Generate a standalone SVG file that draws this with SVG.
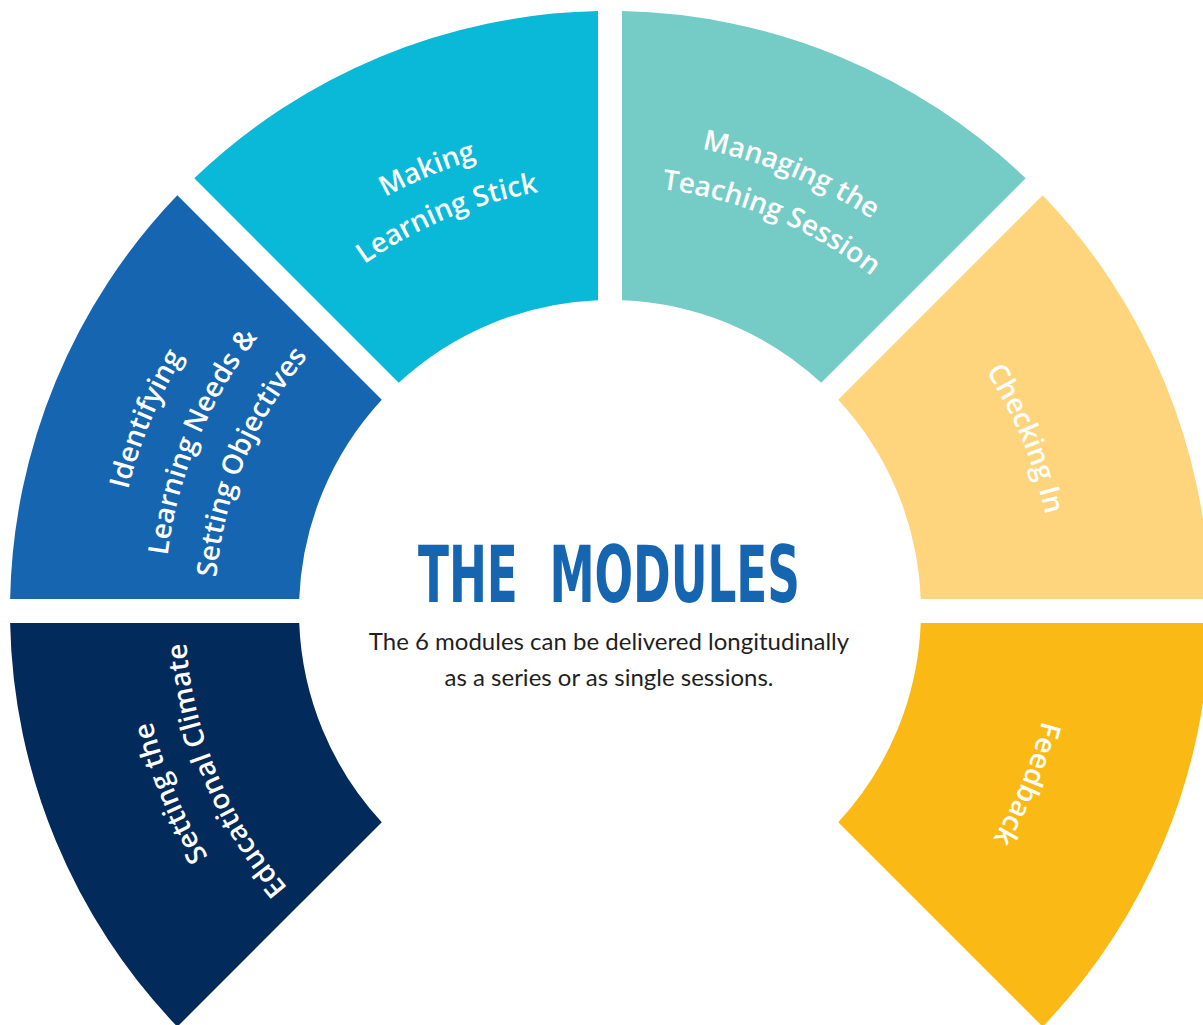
<svg xmlns="http://www.w3.org/2000/svg" xmlns:xlink="http://www.w3.org/1999/xlink" width="1203" height="1025" viewBox="0 0 1203 1025">
  <style>
    .lbl { font-family: "Open Sans", "Lato", "DejaVu Sans", sans-serif; font-weight: 600; font-size: 28px; fill: #ffffff; }
    .title { font-family: "Liberation Sans Narrow", "DejaVu Sans", sans-serif; font-stretch: condensed; font-weight: 700; font-size: 78px; fill: #1565b0; }
    .sub { font-family: "Lato", "Open Sans", sans-serif; font-size: 24px; fill: #1f1f1f; }
  </style>
  <defs>
    <path id="pMak1" d="M276.95,277.95 A471,471 0 0 1 610,140"/>
    <path id="pMak2" d="M309.48,310.48 A425,425 0 0 1 610,186"/>
    <path id="pMan1" d="M610,140 A471,471 0 0 1 943.05,277.95"/>
    <path id="pMan2" d="M610,186 A425,425 0 0 1 910.52,310.48"/>
    <path id="pChk" d="M925.37,295.63 A446,446 0 0 1 1056,611"/>
    <path id="pFdb" d="M1056,611 A446,446 0 0 1 925.37,926.37"/>
    <path id="pCli1" d="M276.95,944.05 A471,471 0 0 1 139,611"/>
    <path id="pCli2" d="M309.48,911.52 A425,425 0 0 1 185,611"/>
    <path id="pId1" d="M113,611 A497,497 0 0 1 258.57,259.57"/>
    <path id="pId2" d="M164,611 A446,446 0 0 1 294.63,295.63"/>
    <path id="pId3" d="M215,611 A395,395 0 0 1 330.69,331.69"/>
  </defs>
  <rect width="1203" height="1025" fill="#ffffff"/>

  <g id="seg-climate">
    <path d="M10.12,623 A600,600 0 0 0 177.33,1026.7 L381.77,822.26 A311,311 0 0 1 299.23,623 Z" fill="#022a5b"/>
    <text class="lbl"><textPath xlink:href="#pCli1" href="#pCli1" startOffset="50%" text-anchor="middle">Setting the</textPath></text>
    <text class="lbl"><textPath xlink:href="#pCli2" href="#pCli2" startOffset="50%" text-anchor="middle">Educational Climate</textPath></text>
  </g>

  <g id="seg-identifying">
    <path d="M10.12,599 A600,600 0 0 1 177.33,195.3 L381.77,399.74 A311,311 0 0 0 299.23,599 Z" fill="#1565b0"/>
    <text class="lbl"><textPath xlink:href="#pId1" href="#pId1" startOffset="50%" text-anchor="middle">Identifying</textPath></text>
    <text class="lbl"><textPath xlink:href="#pId2" href="#pId2" startOffset="50%" text-anchor="middle">Learning Needs &amp;</textPath></text>
    <text class="lbl"><textPath xlink:href="#pId3" href="#pId3" startOffset="50%" text-anchor="middle">Setting Objectives</textPath></text>
  </g>

  <g id="seg-making">
    <path d="M194.3,178.33 A600,600 0 0 1 598,11.12 L598,300.23 A311,311 0 0 0 398.74,382.77 Z" fill="#0ab8d7"/>
    <text class="lbl"><textPath xlink:href="#pMak1" href="#pMak1" startOffset="50%" text-anchor="middle">Making</textPath></text>
    <text class="lbl"><textPath xlink:href="#pMak2" href="#pMak2" startOffset="50%" text-anchor="middle">Learning Stick</textPath></text>
  </g>

  <g id="seg-managing">
    <path d="M622,11.12 A600,600 0 0 1 1025.7,178.33 L821.26,382.77 A311,311 0 0 0 622,300.23 Z" fill="#75ccc6"/>
    <text class="lbl"><textPath xlink:href="#pMan1" href="#pMan1" startOffset="50%" text-anchor="middle">Managing the</textPath></text>
    <text class="lbl"><textPath xlink:href="#pMan2" href="#pMan2" startOffset="50%" text-anchor="middle">Teaching Session</textPath></text>
  </g>

  <g id="seg-checking">
    <path d="M1042.7,195.3 A600,600 0 0 1 1209.88,599 L920.77,599 A311,311 0 0 0 838.23,399.74 Z" fill="#fed57c"/>
    <text class="lbl"><textPath xlink:href="#pChk" href="#pChk" startOffset="50%" text-anchor="middle">Checking In</textPath></text>
  </g>

  <g id="seg-feedback">
    <path d="M1209.88,623 A600,600 0 0 1 1042.7,1026.7 L838.23,822.26 A311,311 0 0 0 920.77,623 Z" fill="#fbb916"/>
    <text class="lbl"><textPath xlink:href="#pFdb" href="#pFdb" startOffset="50%" text-anchor="middle">Feedback</textPath></text>
  </g>

  <g id="center">
    <text class="title" x="609" y="602" text-anchor="middle" textLength="382" lengthAdjust="spacingAndGlyphs" xml:space="preserve">THE  MODULES</text>
    <text class="sub" x="609" y="650" text-anchor="middle">The 6 modules can be delivered longitudinally</text>
    <text class="sub" x="609" y="686" text-anchor="middle">as a series or as single sessions.</text>
  </g>

  <g id="connectors"></g>
</svg>
